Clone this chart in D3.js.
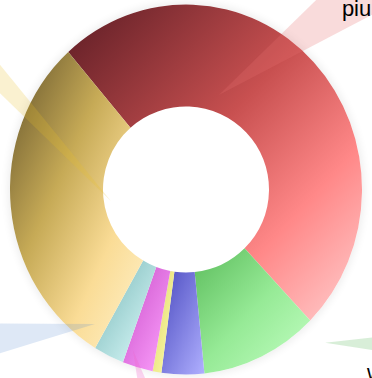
<!DOCTYPE html>
<html>
<head>
<meta charset="utf-8">
<script src="https://cdn.jsdelivr.net/npm/d3@7"></script>
<style>
  html, body { margin: 0; padding: 0; background: #ffffff; overflow: hidden; }
  svg { display: block; }
</style>
</head>
<body>
<svg id="chart" width="372" height="378"></svg>
<script>
// ---- data ----
const categories = ["piu", "w", "c", "d", "e", "f", "g"];
const values = [49.2, 10.8, 3.9, 0.8, 2.8, 2.8, 29.7];

// ---- styles (gradient stops per slice) ----
const gradStops = [
  [[0, "#5c1c24"], [0.45, "#c85050"], [0.72, "#ff8888"], [1, "#ffd0d0"]],
  [[0, "#5cbc5c"], [0.5, "#96ea96"], [1, "#c4ffc4"]],
  [[0, "#4c4cc0"], [1, "#b0b0ff"]],
  [[0, "#ddd46c"], [1, "#ffffac"]],
  [[0, "#c84ec8"], [1, "#ffa4ff"]],
  [[0, "#74b4b4"], [1, "#e2ffff"]],
  [[0, "#62522a"], [0.4, "#c6aa56"], [0.7, "#fadc96"], [1, "#fff2cc"]]
];
const leaderColors = [
  "rgba(230,110,110,0.25)", "rgba(60,170,60,0.2)", "rgba(90,90,220,0.2)",
  "rgba(230,220,60,0.25)", "rgba(240,100,200,0.28)", "rgba(90,140,210,0.2)",
  "rgba(230,190,40,0.22)"
];
// leader wedge layout relative to the chart centre: tip (angle deg, radius),
// direction (deg, 0 = right, counter-clockwise), length, half width at far end,
// label offset from the tip
const leaders = [
  { tipA: 19.2, tipR: 100, dir: 36, len: 300, hw: 44, lab: [123, -79] },
  { tipA: 137.8, tipR: 207, dir: -1, len: 90, hw: 12, lab: [42, 37.5] },
  { tipA: 181, tipR: 205, dir: -90, len: 60, hw: 8, lab: [0, 60] },
  { tipA: 189, tipR: 205, dir: -100, len: 60, hw: 8, lab: [-10, 60] },
  { tipA: 198.3, tipR: 169, dir: -74, len: 70, hw: 9, lab: [10, 60] },
  { tipA: 214.1, tipR: 162.4, dir: 188.4, len: 170, hw: 26, lab: [-160, 40] },
  { tipA: 261.3, tipR: 76, dir: 132.5, len: 240, hw: 14, lab: [-200, -170] }
];

const cx = 186, cy = 189.5, outerRx = 176, outerRy = 185, innerR = 83;
const svg = d3.select("#chart");
const defs = svg.append("defs");

const blur = defs.append("filter").attr("id", "halo")
  .attr("x", "-20%").attr("y", "-20%").attr("width", "140%").attr("height", "140%");
blur.append("feGaussianBlur").attr("stdDeviation", 4);

values.forEach((v, i) => {
  const g = defs.append("linearGradient").attr("id", "grad" + i)
    .attr("x1", 0).attr("y1", 0).attr("x2", 1).attr("y2", 1);
  gradStops[i].forEach(s => g.append("stop").attr("offset", s[0]).attr("stop-color", s[1]));
});

const root = svg.append("g").attr("transform", `translate(${cx},${cy})`);

root.append("ellipse").attr("rx", outerRx + 2).attr("ry", outerRy + 2)
  .attr("fill", "#000").attr("opacity", 0.07).attr("filter", "url(#halo)");
root.append("ellipse").attr("rx", outerRx).attr("ry", outerRy).attr("fill", "#fff");

const deg = Math.PI / 180;
const pie = d3.pie().sort(null).value(d => d)
  .startAngle(-42 * deg).endAngle(318 * deg);
const arcs = pie(values);

// donut slice with a slightly elliptical outer rim
function slicePath(d) {
  const a0 = d.startAngle, a1 = d.endAngle;
  const large = (a1 - a0) > Math.PI ? 1 : 0;
  const o = a => [outerRx * Math.sin(a), -outerRy * Math.cos(a)];
  const n = a => [innerR * Math.sin(a), -innerR * Math.cos(a)];
  const p = d3.path();
  const i0 = n(a0), o0 = o(a0), o1 = o(a1), i1 = n(a1);
  p.moveTo(i0[0], i0[1]);
  p.lineTo(o0[0], o0[1]);
  let s = p.toString();
  s += `A${outerRx},${outerRy},0,${large},1,${o1[0]},${o1[1]}`;
  s += `L${i1[0]},${i1[1]}`;
  s += `A${innerR},${innerR},0,${large},0,${i0[0]},${i0[1]}Z`;
  return s;
}

root.selectAll("path.slice").data(arcs).enter().append("path")
  .attr("class", "slice")
  .attr("d", slicePath)
  .attr("fill", (d, i) => `url(#grad${i})`);

const wedgeG = root.append("g");
leaders.forEach((L, i) => {
  const tx = L.tipR * Math.sin(L.tipA * deg);
  const ty = -L.tipR * Math.cos(L.tipA * deg);
  const ux = Math.cos(L.dir * deg), uy = -Math.sin(L.dir * deg);
  const px = -uy, py = ux;
  const fx = tx + ux * L.len, fy = ty + uy * L.len;
  const pts = [[tx, ty], [fx + px * L.hw, fy + py * L.hw], [fx - px * L.hw, fy - py * L.hw]];
  wedgeG.append("path")
    .attr("d", d3.line()(pts) + "Z")
    .attr("fill", leaderColors[i]);
  wedgeG.append("text")
    .attr("x", tx + L.lab[0]).attr("y", ty + L.lab[1])
    .attr("font-family", "Liberation Sans, Arial, sans-serif")
    .attr("font-size", 22)
    .attr("fill", "#000")
    .text(categories[i]);
});
</script>
</body>
</html>
